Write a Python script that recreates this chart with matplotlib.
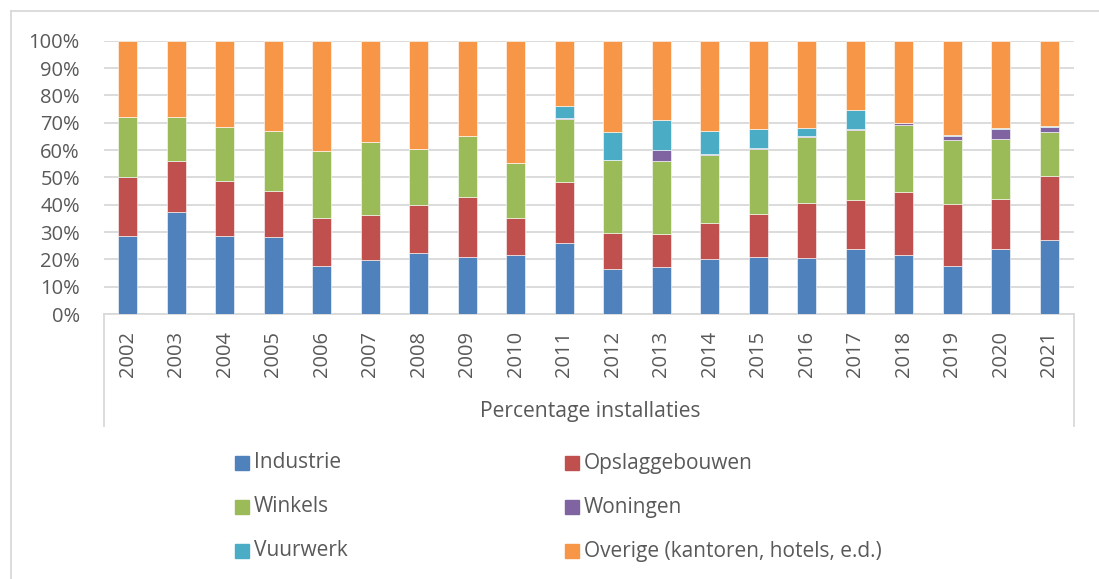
import matplotlib.pyplot as plt
from matplotlib.patches import Rectangle
from matplotlib.lines import Line2D
import numpy as np

years = [str(y) for y in range(2002, 2022)]

industrie = [28.4, 37.2, 28.4, 28.2, 17.6, 19.6, 22.4, 20.7, 21.5, 25.9,
             16.6, 17.3, 20.0, 21.0, 20.6, 23.8, 21.7, 17.4, 23.7, 27.0]
opslag = [21.8, 18.9, 20.4, 16.9, 17.6, 16.7, 17.5, 22.1, 13.7, 22.5,
          13.2, 12.1, 13.2, 15.7, 20.1, 17.8, 22.8, 22.8, 18.5, 23.6]
winkels = [21.8, 15.9, 19.5, 21.9, 24.6, 26.7, 20.3, 22.4, 19.9, 22.8,
           26.4, 26.6, 24.8, 23.5, 23.9, 25.6, 24.6, 23.5, 21.9, 16.1]
woningen = [0, 0, 0, 0, 0, 0, 0, 0, 0, 0.5,
            0.2, 4.1, 0.7, 0.5, 0.4, 0.6, 0.8, 1.4, 3.7, 1.8]
vuurwerk = [0, 0, 0, 0, 0, 0, 0, 0, 0, 4.5,
            10.3, 10.8, 8.4, 7.0, 3.2, 6.7, 0.1, 0.3, 0.4, 0.4]

labels = ["Industrie", "Opslaggebouwen", "Winkels", "Woningen", "Vuurwerk",
          "Overige (kantoren, hotels, e.d.)"]
colors = ["#4F81BD", "#C0504D", "#9BBB59", "#8064A2", "#4BACC6", "#F79646"]

plt.rcParams['font.family'] = ['Open Sans', 'DejaVu Sans']
txt = '#595959'
grid = '#d9d9d9'

series = [np.array(industrie), np.array(opslag), np.array(winkels),
          np.array(woningen), np.array(vuurwerk)]
overige = 100 - sum(series)
series.append(overige)

W, H = 1099, 579
fig = plt.figure(figsize=(W / 100, H / 100), dpi=100)
ax = fig.add_axes([103.5 / W, 1 - 314 / H, 970 / W, 273.3 / H])

x = np.arange(len(years))
bottom = np.zeros(len(years))
for vals, c, lab in zip(series, colors, labels):
    ax.bar(x, vals / 100, 0.4, bottom=bottom / 100, color=c, label=lab,
           edgecolor='white', linewidth=0.4, zorder=3)
    bottom = bottom + vals

ax.set_xlim(-0.5, len(years) - 0.5)
ax.set_ylim(0, 1)
ax.set_yticks(np.arange(0, 1.01, 0.1))
ax.set_yticklabels([f"{int(round(v * 100))}%" for v in np.arange(0, 1.01, 0.1)])
ax.set_xticks(x)
ax.set_xticklabels(years, rotation=90)
ax.tick_params(axis='both', length=0, labelsize=14.5, colors=txt)
ax.tick_params(axis='y', pad=17)
ax.tick_params(axis='x', pad=12)
ax.yaxis.grid(True, color=grid, linewidth=1.3, zorder=0)
for s in ['top', 'right', 'left']:
    ax.spines[s].set_visible(False)
ax.spines['bottom'].set_color(grid)
ax.spines['bottom'].set_linewidth(1.3)

# category axis box
for px in [103.5, 1073.5]:
    fig.add_artist(Line2D([px / W, px / W], [1 - 314 / H, 1 - 426 / H],
                          color=grid, linewidth=1.3))
fig.text(590 / W, 1 - 411 / H, "Percentage installaties", ha='center',
         va='center', fontsize=15.2, color=txt)

# outer border
fig.add_artist(Line2D([11 / W, 11 / W], [0, 1 - 11 / H], color=grid, linewidth=1.3))
fig.add_artist(Line2D([11 / W, 1], [1 - 11 / H, 1 - 11 / H], color=grid, linewidth=1.3))

# legend
cols = [235, 565]
rows = [463, 507, 551]
for i, (lab, c) in enumerate(zip(labels, colors)):
    cx = cols[i % 2]
    cy = rows[i // 2]
    fig.add_artist(Rectangle((cx / W, 1 - (cy + 7) / H), 14 / W, 14 / H,
                             color=c, transform=fig.transFigure))
    fig.text((cx + 19) / W, 1 - cy / H, lab, ha='left', va='center',
             fontsize=15, color=txt)

plt.savefig('out.png')
